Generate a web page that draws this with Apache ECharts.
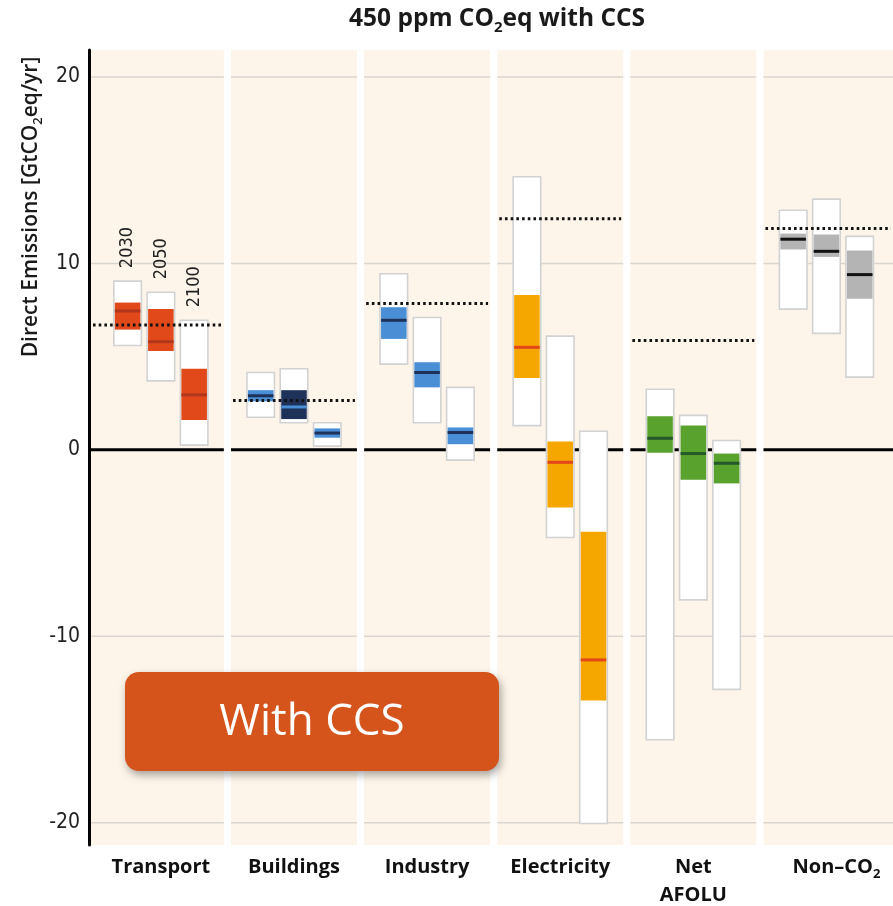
<!DOCTYPE html>
<html>
<head>
<meta charset="utf-8">
<script src="https://cdn.jsdelivr.net/npm/echarts@6/dist/echarts.min.js"></script>
<style>
html,body{margin:0;padding:0;background:#ffffff;}
#chart{width:893px;height:906px;}
</style>
</head>
<body>
<div id="chart"></div>
<script>
// ---------------- data ----------------
const sectors = ['Transport', 'Buildings', 'Industry', 'Electricity', 'Net\nAFOLU', 'Non–CO{sub|2}'];
const years = ['2030', '2050', '2100'];
// [sector][year]
const rangeMax = [[9.05, 8.45, 6.95], [4.15, 4.35, 1.45], [9.45, 7.1, 3.35], [14.65, 6.1, 1.0], [3.25, 1.85, 0.5], [12.85, 13.45, 11.45]];
const quartHigh = [[7.9, 7.55, 4.35], [3.2, 3.2, 1.15], [7.65, 4.7, 1.2], [8.3, 0.45, -4.4], [1.8, 1.3, -0.2], [11.6, 11.55, 10.7]];
const medianVal = [[7.45, 5.8, 2.95], [2.9, 2.3, 0.9], [6.95, 4.15, 0.93], [5.5, -0.67, -11.27], [0.62, -0.2, -0.72], [11.3, 10.65, 9.4]];
const quartLow = [[6.45, 5.3, 1.6], [2.6, 1.65, 0.65], [5.95, 3.35, 0.3], [3.85, -3.1, -13.45], [-0.15, -1.6, -1.8], [10.75, 10.35, 8.1]];
const rangeMin = [[5.6, 3.7, 0.25], [1.75, 1.45, 0.2], [4.6, 1.45, -0.55], [1.3, -4.7, -20.05], [-15.55, -8.05, -12.85], [7.55, 6.25, 3.9]];
const level2010 = [6.7, 2.65, 7.85, 12.4, 5.86, 11.87];
const yTicks = [-20, -10, 0, 10, 20];
const gridTicks = [20, 10, -10, -20];

// ---------------- styles ----------------
const boxFill = [
  ['#e1481a', '#e1481a', '#e1481a'],
  ['#4a8fd6', '#1d3159', '#4a8fd6'],
  ['#4a8fd6', '#4a8fd6', '#4a8fd6'],
  ['#f5a700', '#f5a700', '#f5a700'],
  ['#5aa22e', '#5aa22e', '#5aa22e'],
  ['#b4b4b4', '#b4b4b4', '#b4b4b4']
];
const medianColor = [
  ['#b0371c', '#b0371c', '#b0371c'],
  ['#1d3159', '#4a8fd6', '#1d3159'],
  ['#1d3159', '#1d3159', '#1d3159'],
  ['#e2471c', '#e2471c', '#e2471c'],
  ['#25592a', '#25592a', '#25592a'],
  ['#111111', '#111111', '#111111']
];
const PANEL_GAP = 0.027;
const BOX_STEP = 0.25;
const BOX_W = 0.207;
const NARROW = "'Liberation Sans Narrow', 'DejaVu Sans Condensed', sans-serif";

// build box records
const boxData = [];
sectors.forEach((s, i) => {
  years.forEach((y, k) => {
    boxData.push([i, k, rangeMin[i][k], quartLow[i][k], medianVal[i][k], quartHigh[i][k], rangeMax[i][k]]);
  });
});
const panelData = sectors.map((s, i) => [i, level2010[i]]);

function panelBounds(i, api, cs) {
  const left = i === 0 ? cs.x + 2 : api.coord([i + PANEL_GAP, 0])[0];
  const right = i === sectors.length - 1 ? cs.x + cs.width : api.coord([i + 1 - PANEL_GAP, 0])[0];
  return [left, right];
}

const chart = echarts.init(document.getElementById('chart'), null, {renderer: 'canvas'});

const option = {
  backgroundColor: '#ffffff',
  animation: false,
  title: {
    text: '450 ppm CO{sub|2}eq with CCS',
    left: 349,
    top: 3,
    padding: 0,
    textStyle: {
      fontFamily: 'Open Sans',
      fontWeight: 'bold',
      fontSize: 24.5,
      color: '#1a1a1a',
      lineHeight: 32,
      rich: {
        sub: {fontFamily: 'Open Sans', fontWeight: 'bold', fontSize: 15, color: '#1a1a1a', lineHeight: 8, verticalAlign: 'bottom'}
      }
    }
  },
  grid: {left: 89, right: 0, top: 50, bottom: 61, outerBoundsMode: 'none', containLabel: false},
  xAxis: {
    type: 'value',
    min: -0.04,
    max: 6,
    axisLine: {show: false, onZero: false},
    axisTick: {show: false},
    splitLine: {show: false},
    axisLabel: {
      customValues: sectors.map((s, i) => i + 0.5),
      formatter: v => {
        const idx = Math.round(v - 0.5);
        return idx === sectors.length - 1 ? '{pad|}' + sectors[idx] : sectors[idx];
      },
      margin: 8,
      fontFamily: 'Open Sans',
      fontWeight: 'bold',
      fontSize: 20,
      lineHeight: 28,
      color: '#111111',
      rich: {
        sub: {fontFamily: 'Open Sans', fontWeight: 'bold', fontSize: 13, color: '#111111', lineHeight: 8, verticalAlign: 'bottom'},
        pad: {width: 20}
      }
    }
  },
  yAxis: {
    type: 'value',
    min: -21.2,
    max: 21.45,
    z: 10,
    axisLine: {show: true, onZero: false, lineStyle: {color: '#000000', width: 3}},
    axisTick: {show: false},
    splitLine: {show: false},
    axisLabel: {
      customValues: yTicks,
      margin: 9,
      fontFamily: NARROW,
      fontSize: 21,
      color: '#222222'
    }
  },
  graphic: [
    {
      type: 'text',
      x: 31,
      y: 207,
      rotation: Math.PI / 2,
      style: {
        text: 'Direct Emissions [GtCO{sub|2}eq/yr]',
        fontFamily: 'Open Sans',
        fontWeight: 600,
        fontSize: 21,
        fill: '#1a1a1a',
        align: 'center',
        verticalAlign: 'middle',
        lineHeight: 28,
        rich: {
          sub: {fontFamily: 'Open Sans', fontWeight: 600, fontSize: 13, fill: '#1a1a1a', lineHeight: 8, verticalAlign: 'bottom'}
        }
      },
      z: 10
    },
    {
      type: 'rect',
      shape: {x: 125, y: 672, width: 374, height: 99, r: 14},
      style: {fill: '#d4541b', shadowBlur: 8, shadowOffsetX: 2, shadowOffsetY: 4, shadowColor: 'rgba(0,0,0,0.35)'},
      z: 20
    },
    {
      type: 'text',
      x: 312,
      y: 722,
      style: {text: 'With CCS', fontFamily: 'Open Sans', fontSize: 44, fill: '#ffffff', align: 'center', verticalAlign: 'middle'},
      z: 21
    }
  ],
  series: [
    {
      type: 'custom',
      name: 'panels',
      z: 1,
      silent: true,
      clip: false,
      data: panelData,
      encode: {x: 0, y: 1},
      renderItem: function (params, api) {
        const cs = params.coordSys;
        const i = api.value(0);
        const b = panelBounds(i, api, cs);
        const children = [{
          type: 'rect',
          shape: {x: b[0], y: cs.y, width: b[1] - b[0], height: cs.height},
          style: {fill: '#fdf5ea'}
        }];
        gridTicks.forEach(t => {
          const yy = api.coord([0, t])[1];
          children.push({type: 'line', shape: {x1: b[0], y1: yy, x2: b[1], y2: yy}, style: {stroke: '#d9d6d0', lineWidth: 1.5}});
        });
        const y0 = api.coord([0, 0])[1];
        children.push({type: 'line', shape: {x1: b[0], y1: y0, x2: b[1], y2: y0}, style: {stroke: '#000000', lineWidth: 3}});
        return {type: 'group', children: children};
      }
    },
    {
      type: 'custom',
      name: 'boxes',
      z: 2,
      silent: true,
      clip: false,
      data: boxData,
      encode: {x: 0, y: [2, 3, 4, 5, 6]},
      renderItem: function (params, api) {
        const i = api.value(0), k = api.value(1);
        const xc = i + 0.5 + (k - 1) * BOX_STEP;
        const w = api.size([BOX_W, 0])[0];
        const cx = api.coord([xc, 0])[0];
        const x0 = cx - w / 2;
        const yMin = api.coord([xc, api.value(2)])[1];
        const yQ1 = api.coord([xc, api.value(3)])[1];
        const yMed = api.coord([xc, api.value(4)])[1];
        const yQ3 = api.coord([xc, api.value(5)])[1];
        const yMax = api.coord([xc, api.value(6)])[1];
        const children = [
          {type: 'rect', shape: {x: x0, y: yMax, width: w, height: yMin - yMax}, style: {fill: '#ffffff', stroke: '#d2d2d2', lineWidth: 1.6}},
          {type: 'rect', shape: {x: x0 + 1, y: yQ3, width: w - 2, height: yQ1 - yQ3}, style: {fill: boxFill[i][k]}},
          {type: 'rect', shape: {x: x0 + 1, y: yMed - 1.5, width: w - 2, height: 3}, style: {fill: medianColor[i][k]}}
        ];
        if (i === 0) {
          children.push({
            type: 'text',
            x: cx,
            y: yMax - 13,
            rotation: Math.PI / 2,
            style: {text: years[k], fontFamily: NARROW, fontSize: 18, fill: '#222222', align: 'left', verticalAlign: 'middle'}
          });
        }
        return {type: 'group', children: children};
      }
    },
    {
      type: 'custom',
      name: 'level2010',
      z: 3,
      silent: true,
      clip: false,
      data: panelData,
      encode: {x: 0, y: 1},
      renderItem: function (params, api) {
        const cs = params.coordSys;
        const i = api.value(0);
        const b = panelBounds(i, api, cs);
        const yy = api.coord([0, api.value(1)])[1];
        return {
          type: 'line',
          shape: {x1: b[0] + 2, y1: yy, x2: b[1] - 2, y2: yy},
          style: {stroke: '#111111', lineWidth: 3, lineDash: [2.6, 3.1]}
        };
      }
    }
  ]
};
chart.setOption(option);
</script>
</body>
</html>
